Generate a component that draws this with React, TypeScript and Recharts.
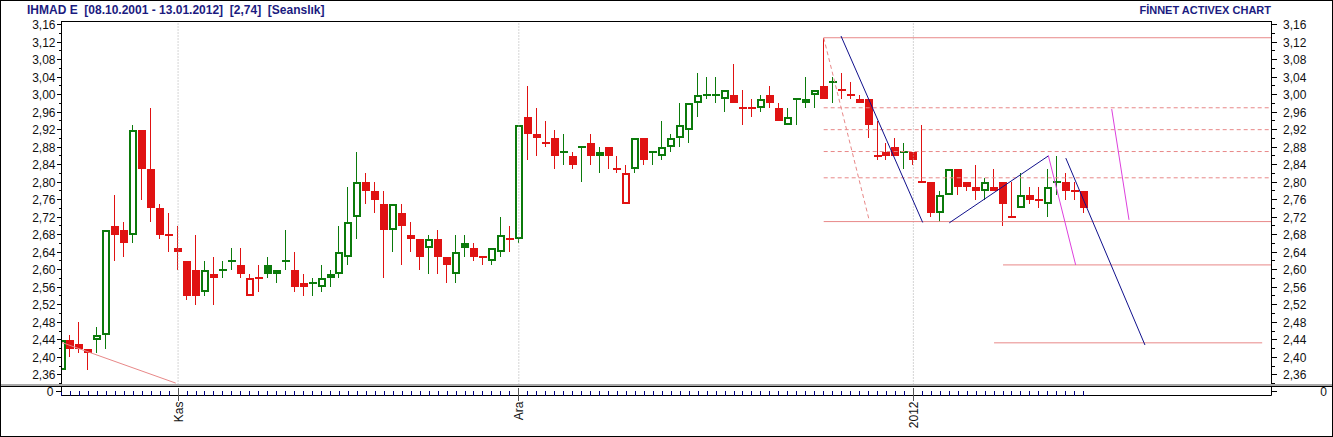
import React from "react";
import { ComposedChart, Bar, XAxis, YAxis, ReferenceLine } from "recharts";

// one candle per session, slot 0 = first session on the chart
const opens = [
  2.37, 2.44, 2.43, 2.41, 2.44, 2.45, 2.70, 2.69, 2.68, 2.92,
  2.83, 2.74, 2.68, 2.64, 2.62, 2.60, 2.55, 2.58, 2.60, 2.62,
  2.61, 2.54, 2.58, 2.61, 2.60, 2.62, 2.60, 2.57, 2.57, 2.56,
  2.58, 2.59, 2.63, 2.72, 2.80, 2.78, 2.75, 2.69, 2.73, 2.68,
  2.67, 2.65, 2.67, 2.63, 2.59, 2.66, 2.65, 2.63, 2.62, 2.64,
  2.67, 2.67, 2.95, 2.90, 2.89, 2.90, 2.87, 2.86, 2.88, 2.89,
  2.86, 2.88, 2.83, 2.75, 2.83, 2.90, 2.87, 2.86, 2.88, 2.90,
  2.92, 2.98, 3.00, 3.00, 2.99, 3.00, 2.97, 2.97, 2.97, 3.00,
  2.97, 2.93, 2.99, 2.98, 3.00, 3.02, 3.03, 3.01, 3.00, 2.98,
  2.99, 2.86, 2.87, 2.88, 2.87, 2.87, 2.80, 2.80, 2.73, 2.77,
  2.83, 2.80, 2.78, 2.78, 2.79, 2.80, 2.72, 2.74, 2.77, 2.76,
  2.75, 2.80, 2.80, 2.78, 2.78,
];
const highs = [
  2.44, 2.45, 2.48, 2.42, 2.47, 2.69, 2.77, 2.71, 2.93, 2.92,
  2.97, 2.75, 2.73, 2.70, 2.62, 2.68, 2.62, 2.63, 2.62, 2.65,
  2.65, 2.59, 2.61, 2.63, 2.60, 2.69, 2.64, 2.59, 2.58, 2.61,
  2.60, 2.70, 2.79, 2.87, 2.82, 2.80, 2.78, 2.75, 2.75, 2.71,
  2.67, 2.68, 2.69, 2.63, 2.68, 2.68, 2.66, 2.63, 2.65, 2.72,
  2.70, 2.93, 3.02, 2.97, 2.94, 2.92, 2.91, 2.87, 2.88, 2.91,
  2.88, 2.88, 2.86, 2.84, 2.90, 2.90, 2.87, 2.94, 2.91, 2.98,
  2.98, 3.05, 3.04, 3.04, 3.01, 3.07, 3.01, 2.99, 3.00, 3.02,
  2.98, 2.97, 2.99, 3.04, 3.01, 3.13, 3.04, 3.05, 3.03, 3.00,
  2.99, 2.94, 2.89, 2.90, 2.89, 2.87, 2.93, 2.80, 2.78, 2.83,
  2.83, 2.80, 2.84, 2.81, 2.83, 2.80, 2.80, 2.82, 2.79, 2.79,
  2.83, 2.86, 2.82, 2.80, 2.78,
];
const lows = [
  2.37, 2.40, 2.41, 2.37, 2.41, 2.42, 2.62, 2.63, 2.66, 2.76,
  2.71, 2.67, 2.64, 2.60, 2.53, 2.52, 2.54, 2.52, 2.58, 2.60,
  2.58, 2.54, 2.55, 2.58, 2.57, 2.60, 2.55, 2.54, 2.54, 2.55,
  2.56, 2.58, 2.61, 2.67, 2.75, 2.73, 2.58, 2.64, 2.61, 2.64,
  2.60, 2.59, 2.59, 2.57, 2.57, 2.63, 2.62, 2.61, 2.61, 2.63,
  2.64, 2.66, 2.85, 2.86, 2.88, 2.83, 2.84, 2.83, 2.80, 2.84,
  2.82, 2.83, 2.82, 2.75, 2.82, 2.84, 2.84, 2.85, 2.87, 2.88,
  2.89, 2.95, 2.99, 2.98, 2.96, 2.98, 2.93, 2.95, 2.96, 2.97,
  2.94, 2.93, 2.93, 2.97, 2.97, 2.99, 2.98, 2.99, 2.99, 2.98,
  2.90, 2.85, 2.85, 2.86, 2.83, 2.84, 2.80, 2.72, 2.71, 2.77,
  2.77, 2.78, 2.76, 2.76, 2.78, 2.70, 2.72, 2.74, 2.75, 2.74,
  2.72, 2.77, 2.76, 2.76, 2.73,
];
const closes = [
  2.44, 2.42, 2.42, 2.42, 2.45, 2.69, 2.68, 2.66, 2.92, 2.83,
  2.74, 2.68, 2.68, 2.65, 2.54, 2.54, 2.60, 2.59, 2.60, 2.62,
  2.59, 2.58, 2.58, 2.59, 2.59, 2.62, 2.56, 2.56, 2.57, 2.58,
  2.59, 2.64, 2.71, 2.80, 2.78, 2.76, 2.69, 2.75, 2.70, 2.67,
  2.63, 2.67, 2.63, 2.61, 2.64, 2.65, 2.63, 2.63, 2.65, 2.68,
  2.67, 2.93, 2.91, 2.91, 2.89, 2.86, 2.87, 2.84, 2.88, 2.86,
  2.87, 2.86, 2.83, 2.82, 2.90, 2.85, 2.87, 2.88, 2.90, 2.93,
  2.98, 3.00, 3.00, 3.00, 3.01, 2.98, 2.97, 2.97, 2.99, 2.98,
  2.94, 2.95, 2.99, 2.99, 3.01, 2.99, 3.03, 3.01, 3.00, 2.99,
  2.93, 2.86, 2.86, 2.86, 2.87, 2.85, 2.80, 2.73, 2.77, 2.83,
  2.79, 2.79, 2.79, 2.80, 2.78, 2.75, 2.72, 2.77, 2.76, 2.76,
  2.79, 2.80, 2.78, 2.78, 2.74,
];

// time axis
const monthSlots = [13, 51, 95];
const monthLabels = ["Kas", "Ara", "2012"];

// price axis ticks, labelled every 0,04
const priceTicks = [
  2.34, 2.36, 2.38, 2.40, 2.42, 2.44, 2.46, 2.48, 2.50, 2.52, 2.54,
  2.56, 2.58, 2.60, 2.62, 2.64, 2.66, 2.68, 2.70, 2.72, 2.74, 2.76,
  2.78, 2.80, 2.82, 2.84, 2.86, 2.88, 2.90, 2.92, 2.94, 2.96, 2.98,
  3.00, 3.02, 3.04, 3.06, 3.08, 3.10, 3.12, 3.14, 3.16,
];

// fibonacci drawing from the 3,13 top
const fibStartSlot = 85;
const fibLevels = [3.13, 2.97, 2.92, 2.87, 2.81, 2.71];
const fibSolid = [true, false, false, false, false, true];

// drawn lines: [slotA, priceA, slotB, priceB]
const pinkLines = [
  [0, 2.434, 12.74, 2.341],
  [105.0, 2.611, 134.94, 2.611],
  [104.0, 2.433, 133.9, 2.433],
];
const pinkDashedLines = [[85, 3.13, 90.05, 2.715]];
const blueLines = [
  [86.93, 3.134, 96.04, 2.708],
  [99.0, 2.707, 110.05, 2.86],
  [112.0, 2.855, 120.83, 2.428],
];
const magentaLines = [
  [110.05, 2.861, 113.1, 2.611],
  [117.12, 2.967, 119.05, 2.714],
];

const X_DOMAIN: [number, number] = [0, 134.94];
const Y_DOMAIN: [number, number] = [2.3378, 3.1671];

const GREEN = "#0B7A0B";
const RED = "#E01212";
const PINK = "#E88888";
const BLUE = "#10108C";
const MAGENTA = "#DD3FDD";
const NAVY = "#1B1B80";
const FONT = "'Liberation Sans', Arial, sans-serif";

const candles = (() => {
  let up = true;
  return opens.map((open, i) => {
    if (i > 0 && closes[i] !== closes[i - 1]) up = closes[i] > closes[i - 1];
    return {
      slot: i,
      open,
      high: highs[i],
      low: lows[i],
      close: closes[i],
      range: [lows[i], highs[i]],
      up,
    };
  });
})();

const CandleShape = (props: any) => {
  const { x, y, width, height } = props;
  const d = props.payload ?? props;
  const span = d.high - d.low;
  const toY = (v: number) => (span > 0 ? y + ((d.high - v) / span) * height : y);
  const cx = Math.floor(x + width / 2) + 1;
  const color = d.up ? GREEN : RED;
  const top = Math.round(toY(Math.max(d.open, d.close)));
  const bot = Math.round(toY(Math.min(d.open, d.close)));
  const yHigh = Math.round(y);
  const yLow = Math.round(y + height);

  let body;
  if (d.close === d.open) {
    body = <line x1={cx - 4} x2={cx + 4} y1={top} y2={top} stroke={color} strokeWidth={2} />;
  } else if (d.close > d.open) {
    body = (
      <rect
        x={cx - 3}
        y={top + 1}
        width={6}
        height={Math.max(bot - top - 2, 0)}
        fill="#fff"
        stroke={color}
        strokeWidth={2}
      />
    );
  } else {
    body = <rect x={cx - 4} y={top} width={8} height={Math.max(bot - top, 1)} fill={color} />;
  }

  return (
    <g shapeRendering="crispEdges">
      <line x1={cx - 0.5} x2={cx - 0.5} y1={yHigh} y2={yLow} stroke={color} strokeWidth={1} />
      {body}
    </g>
  );
};

const PriceTick = (props: any) => {
  const { x, y, payload, side } = props;
  const v = payload.value;
  const major = Math.round(v * 100) % 4 === 0;
  const dir = side === "right" ? 1 : -1;
  const py = Math.floor(y) + 0.5;
  const len = major ? 5 : 3;
  return (
    <g>
      <line x1={x} x2={x + dir * len} y1={py} y2={py} stroke="#000" shapeRendering="crispEdges" />
      {major && (
        <text
          x={side === "right" ? x + 11.5 : x - 6}
          y={py + 4}
          textAnchor={side === "right" ? "start" : "end"}
          fontFamily={FONT}
          fontSize={12}
          fill="#111"
        >
          {v.toFixed(2).replace(".", ",")}
        </text>
      )}
    </g>
  );
};

const ZeroTick = (props: any) => {
  const { x, y, side } = props;
  const py = Math.floor(y) + 0.5;
  const right = side === "right";
  return (
    <g>
      <line x1={x} x2={right ? x + 5 : x - 6} y1={py} y2={py} stroke="#000" shapeRendering="crispEdges" />
      <text
        x={right ? 1327 : 53.5}
        y={py + 4}
        textAnchor="end"
        fontFamily={FONT}
        fontSize={12}
        fill="#111"
      >
        0
      </text>
    </g>
  );
};

const TimeTick = (props: any) => {
  const { x, y, payload } = props;
  const idx = monthSlots.indexOf(payload.value);
  const px = Math.floor(x) + 0.5;
  if (idx < 0) {
    return <line x1={px} x2={px} y1={y - 5} y2={y} stroke="#000080" shapeRendering="crispEdges" />;
  }
  return (
    <g>
      <line x1={px} x2={px} y1={y - 8} y2={y + 5} stroke="#555" shapeRendering="crispEdges" />
      <text
        transform={`translate(${px + 0.5}, ${y + 6}) rotate(-90)`}
        textAnchor="end"
        dominantBaseline="central"
        fontFamily={FONT}
        fontSize={12}
        fill="#111"
      >
        {monthLabels[idx]}
      </text>
    </g>
  );
};

const segmentLine = (l: number[], key: string, stroke: string, dash?: string) => (
  <ReferenceLine
    key={key}
    yAxisId="p"
    segment={[
      { x: l[0], y: l[1] },
      { x: l[2], y: l[3] },
    ]}
    stroke={stroke}
    strokeWidth={1}
    strokeDasharray={dash}
    ifOverflow="visible"
  />
);

const App = () => {
  return (
    <div
      style={{
        position: "absolute",
        left: 0,
        top: 0,
        width: 1333,
        height: 437,
        background: "#fff",
        overflow: "hidden",
        fontFamily: FONT,
      }}
    >
      <div style={{ position: "absolute", left: 0, top: 0 }}>
        <ComposedChart
          width={1333}
          height={385}
          data={candles}
          margin={{ top: 21.5, right: 0, bottom: 0.5, left: 0 }}
        >
          <XAxis type="number" dataKey="slot" domain={X_DOMAIN} hide allowDataOverflow />
          <YAxis
            yAxisId="p"
            orientation="left"
            width={61.5}
            domain={Y_DOMAIN}
            ticks={priceTicks}
            interval={0}
            allowDataOverflow
            tickSize={0}
            tickMargin={0}
            tickLine={false}
            axisLine={{ stroke: "#000" }}
            tick={(p: any) => <PriceTick {...p} side="left" />}
          />
          <YAxis
            yAxisId="q"
            orientation="right"
            width={61.5}
            domain={Y_DOMAIN}
            ticks={priceTicks}
            interval={0}
            allowDataOverflow
            tickSize={0}
            tickMargin={0}
            tickLine={false}
            axisLine={{ stroke: "#000" }}
            tick={(p: any) => <PriceTick {...p} side="right" />}
          />
          {monthSlots.map((s) => (
            <ReferenceLine key={`m${s}`} yAxisId="p" x={s} stroke="#AAAAAA" strokeDasharray="1 2" />
          ))}
          {fibLevels.map((lv, i) => (
            <ReferenceLine
              key={`f${i}`}
              yAxisId="p"
              segment={[
                { x: fibStartSlot, y: lv },
                { x: X_DOMAIN[1], y: lv },
              ]}
              stroke={PINK}
              strokeDasharray={fibSolid[i] ? undefined : "4 3"}
              ifOverflow="visible"
            />
          ))}
          {pinkDashedLines.map((l, i) => segmentLine(l, `pd${i}`, PINK, "4 3"))}
          {pinkLines.map((l, i) => segmentLine(l, `p${i}`, PINK))}
          <Bar
            yAxisId="p"
            dataKey="range"
            barSize={8}
            shape={CandleShape}
            isAnimationActive={false}
          />
          {blueLines.map((l, i) => segmentLine(l, `b${i}`, BLUE))}
          {magentaLines.map((l, i) => segmentLine(l, `mg${i}`, MAGENTA))}
        </ComposedChart>
      </div>

      {/* empty volume panel with the session axis */}
      <div style={{ position: "absolute", left: 0, top: 386 }}>
        <ComposedChart
          width={1333}
          height={51}
          data={candles}
          margin={{ top: 0.5, right: 0, bottom: 0, left: 0 }}
        >
          <XAxis
            type="number"
            dataKey="slot"
            domain={X_DOMAIN}
            ticks={candles.map((c) => c.slot)}
            interval={0}
            height={41.5}
            tickSize={0}
            tickMargin={0}
            tickLine={false}
            allowDataOverflow
            axisLine={{ stroke: "#000" }}
            tick={(p: any) => <TimeTick {...p} />}
          />
          <YAxis
            yAxisId="v"
            orientation="left"
            width={61.5}
            domain={[-1, 1]}
            ticks={[0]}
            interval={0}
            allowDataOverflow
            tickSize={0}
            tickMargin={0}
            tickLine={false}
            axisLine={{ stroke: "#000" }}
            tick={(p: any) => <ZeroTick {...p} side="left" />}
          />
          <YAxis
            yAxisId="w"
            orientation="right"
            width={61.5}
            domain={[-1, 1]}
            ticks={[0]}
            interval={0}
            allowDataOverflow
            tickSize={0}
            tickMargin={0}
            tickLine={false}
            axisLine={{ stroke: "#000" }}
            tick={(p: any) => <ZeroTick {...p} side="right" />}
          />
        </ComposedChart>
      </div>

      {/* frame lines */}
      <div style={{ position: "absolute", left: 61, top: 21, width: 1211, height: 1, background: "#000" }} />
      <div style={{ position: "absolute", left: 0, top: 384, width: 1333, height: 2, background: "#A9A9A9" }} />
      <div style={{ position: "absolute", left: 0, top: 386, width: 1333, height: 1, background: "#000" }} />
      <div
        style={{
          position: "absolute",
          left: 0,
          top: 0,
          width: 1333,
          height: 437,
          border: "1px solid #000",
          boxSizing: "border-box",
          pointerEvents: "none",
        }}
      />

      <div
        style={{
          position: "absolute",
          left: 27,
          top: 4,
          fontSize: 12,
          lineHeight: "13px",
          fontWeight: "bold",
          color: NAVY,
          whiteSpace: "pre",
        }}
      >
        {"IHMAD E  [08.10.2001 - 13.01.2012]  [2,74]  [Seanslık]"}
      </div>
      <div
        style={{
          position: "absolute",
          right: 62,
          top: 4,
          fontSize: 11,
          lineHeight: "13px",
          fontWeight: "bold",
          color: NAVY,
          whiteSpace: "pre",
        }}
      >
        FİNNET ACTIVEX CHART
      </div>
    </div>
  );
};

export default App;
